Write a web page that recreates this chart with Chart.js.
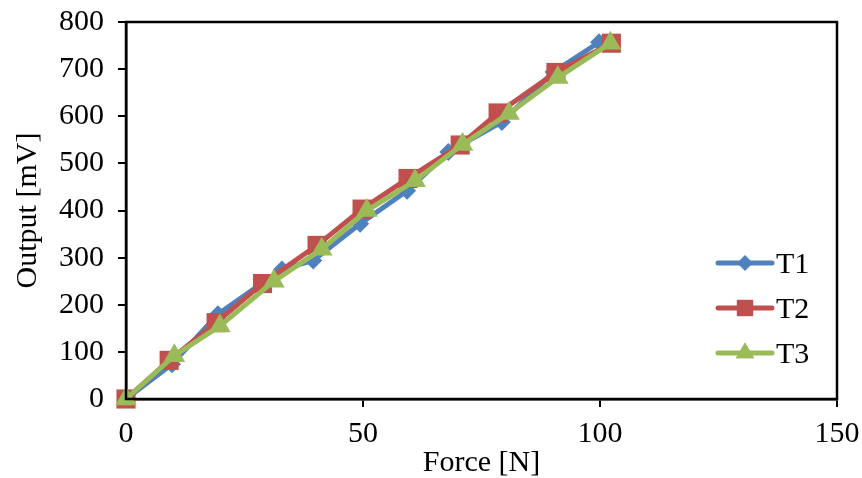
<!DOCTYPE html>
<html>
<head>
<meta charset="utf-8">
<script src="https://cdn.jsdelivr.net/npm/chart.js@4"></script>
<style>
  html, body { margin: 0; padding: 0; background: #fff; }
  #wrap { width: 862px; height: 478px; }
</style>
</head>
<body>
<div id="wrap"><canvas id="forceChart" width="862" height="478"></canvas></div>
<script>
// values
const seriesNames = ['T1', 'T2', 'T3'];
const t1Force = [0, 9.7, 19.4, 32.9, 39.5, 49.4, 59.3, 68.0, 79.3, 90.2, 99.8];
const t1Output = [0, 74, 180, 275, 294, 372, 442, 524, 588, 694, 757];
const t2Force = [0, 9.1, 19.0, 28.8, 40.3, 49.8, 59.5, 70.5, 78.5, 90.7, 102.4];
const t2Output = [0, 82, 162, 245, 326, 403, 468, 539, 607, 693, 755];
const t3Force = [0, 10.2, 19.8, 31.2, 41.3, 50.8, 61.0, 71.0, 80.8, 91.1, 102.2];
const t3Output = [0, 92, 155, 250, 318, 400, 463, 540, 606, 682, 755];
const xTicks = [0, 50, 100, 150];
const yTicks = [0, 100, 200, 300, 400, 500, 600, 700, 800];

const colors = ['#4F81BD', '#C0504D', '#9BBB59'];
const shapes = ['rectRot', 'rect', 'triangle'];
const radii = [9, 13.5, 12.5];
const FONT = '"Liberation Serif", "Times New Roman", serif';
const FSIZE = 30;

function toPoints(xs, ys) {
  return xs.map((x, i) => ({ x: x, y: ys[i] }));
}

const datasets = [
  toPoints(t1Force, t1Output),
  toPoints(t2Force, t2Output),
  toPoints(t3Force, t3Output)
].map((pts, i) => ({
  label: seriesNames[i],
  data: pts,
  showLine: true,
  borderColor: colors[i],
  backgroundColor: colors[i],
  borderWidth: 5,
  pointStyle: shapes[i],
  pointRadius: radii[i],
  pointHoverRadius: radii[i],
  pointBorderWidth: 0,
  order: 3 - i,
  clip: false
}));

// box around the plot + legend at the right of the plot area
const framePlugin = {
  id: 'frame',
  afterDraw(chart) {
    const ctx = chart.ctx;
    const a = chart.chartArea;
    ctx.save();
    ctx.strokeStyle = '#000';
    ctx.lineWidth = 2.5;
    ctx.strokeRect(a.left, a.top, a.right - a.left, a.bottom - a.top);

    ctx.font = FSIZE + 'px ' + FONT;
    ctx.textBaseline = 'middle';
    const x0 = a.right - 119;
    chart.data.datasets.forEach((ds, i) => {
      const y = a.top + 241 + i * 45;
      ctx.strokeStyle = ds.borderColor;
      ctx.lineWidth = 5;
      ctx.lineCap = 'round';
      ctx.beginPath();
      ctx.moveTo(x0, y);
      ctx.lineTo(x0 + 54, y);
      ctx.stroke();
      ctx.fillStyle = ds.backgroundColor;
      Chart.helpers.drawPoint(ctx, { pointStyle: ds.pointStyle, radius: ds.pointRadius * 0.85, borderWidth: 0 }, x0 + 27, y);
      ctx.fill();
      ctx.fillStyle = '#000';
      ctx.fillText(ds.label, x0 + 58, y + 2);
    });
    ctx.restore();
  }
};

new Chart(document.getElementById('forceChart'), {
  type: 'scatter',
  data: { datasets: datasets },
  options: {
    responsive: false,
    animation: false,
    layout: { padding: { top: 22, right: 25, left: 0, bottom: 0 } },
    plugins: { legend: { display: false }, tooltip: { enabled: false } },
    scales: {
      x: {
        type: 'linear',
        min: 0,
        max: 150,
        afterBuildTicks: s => { s.ticks = xTicks.map(v => ({ value: v })); },
        afterFit: s => { s.height = 79; s.paddingLeft = 0; s.paddingRight = 0; },
        grid: { display: true, drawOnChartArea: false, drawTicks: true, tickLength: 8, color: '#000', lineWidth: 2 },
        border: { display: true, color: '#000', width: 2.5 },
        ticks: { color: '#000', font: { family: FONT, size: FSIZE }, padding: 9, maxRotation: 0 },
        title: { display: true, text: 'Force [N]', color: '#000', font: { family: FONT, size: FSIZE }, padding: { top: 0, bottom: -3 } }
      },
      y: {
        type: 'linear',
        min: 0,
        max: 800,
        afterBuildTicks: s => { s.ticks = yTicks.map(v => ({ value: v })); },
        afterFit: s => { s.width = 126; s.paddingTop = 0; s.paddingBottom = 0; },
        grid: { display: true, drawOnChartArea: false, drawTicks: true, tickLength: 8, color: '#000', lineWidth: 2 },
        border: { display: true, color: '#000', width: 2.5 },
        ticks: { color: '#000', font: { family: FONT, size: FSIZE }, padding: 14 },
        title: { display: true, text: 'Output [mV]', color: '#000', font: { family: FONT, size: FSIZE }, padding: { top: 10, bottom: 0 } }
      }
    }
  },
  plugins: [framePlugin]
});
</script>
</body>
</html>
